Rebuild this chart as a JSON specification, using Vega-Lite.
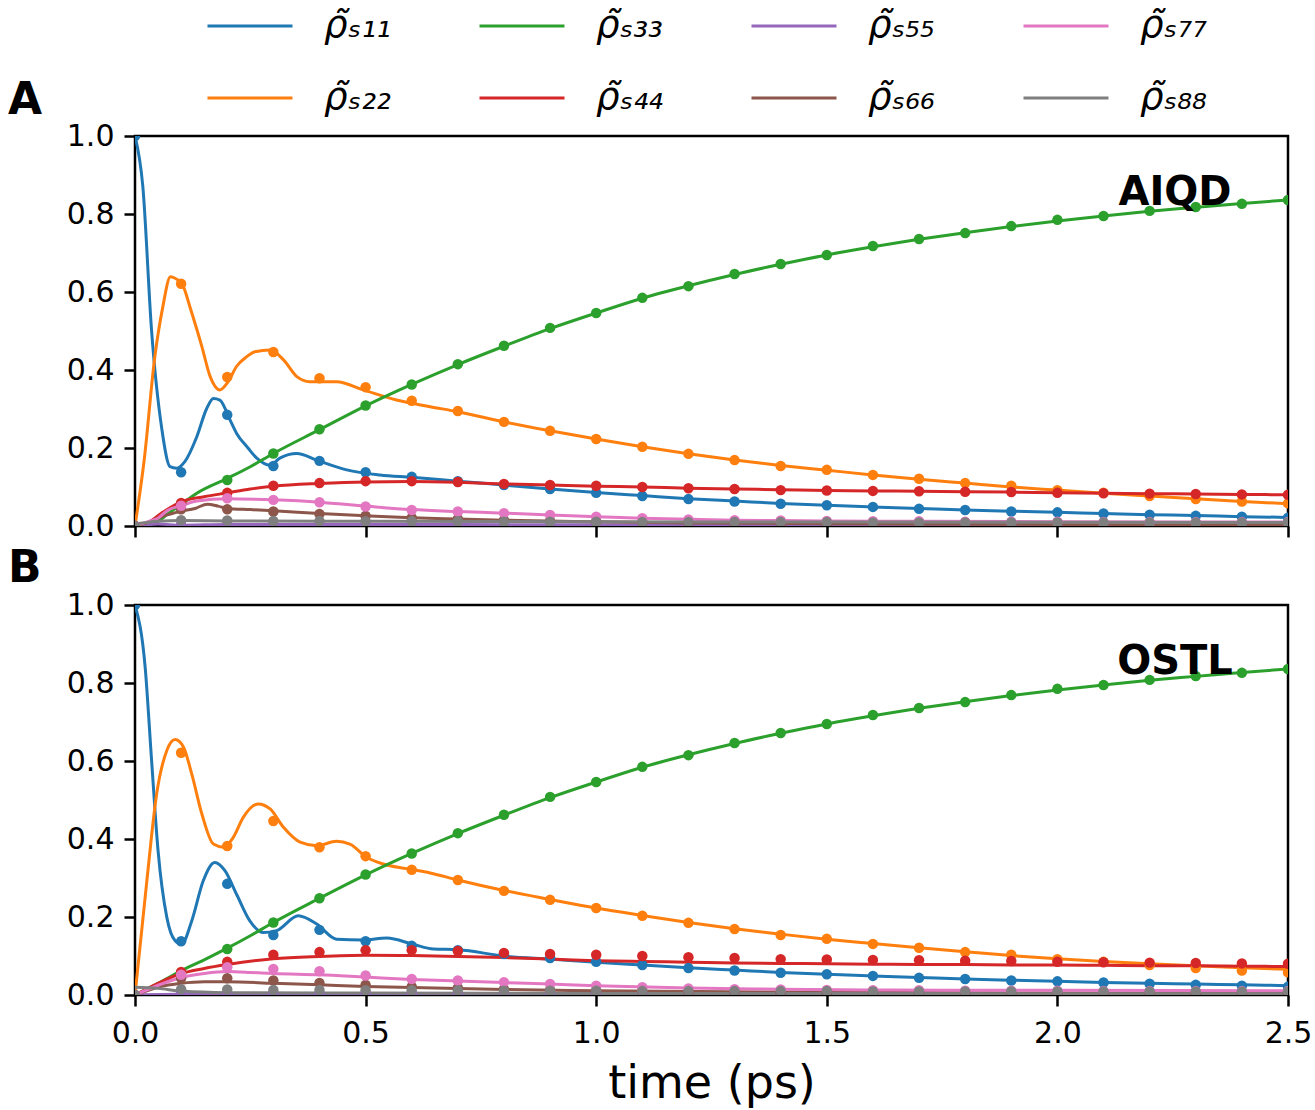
{
  "$schema": "https://vega.github.io/schema/vega-lite/v6.json",
  "background": "white",
  "padding": {"left": 6, "top": 3, "right": 5, "bottom": 2},
  "spacing": 2,
  "config": {
    "font": "DejaVu Sans",
    "view": {"stroke": "black", "strokeWidth": 2.5},
    "axis": {"domain": false, "grid": false, "tickColor": "black", "tickSize": 11, "tickWidth": 2.5, "labelColor": "black", "labelFontSize": 30, "labelFlush": false, "labelOverlap": false, "titleColor": "black"},
    "title": {"fontSize": 44, "fontWeight": "bold", "anchor": "start", "frame": "group", "color": "black", "baseline": "alphabetic"}
  },
  "datasets": {
    "pts": [
      {"t":0,"s":"s11","v":1.0},{"t":0.1,"s":"s11","v":0.138},{"t":0.2,"s":"s11","v":0.285},{"t":0.3,"s":"s11","v":0.154},{"t":0.4,"s":"s11","v":0.167},{"t":0.5,"s":"s11","v":0.138},{"t":0.6,"s":"s11","v":0.126},{"t":0.7,"s":"s11","v":0.115},{"t":0.8,"s":"s11","v":0.105},{"t":0.9,"s":"s11","v":0.095},{"t":1.0,"s":"s11","v":0.085},{"t":1.1,"s":"s11","v":0.077},{"t":1.2,"s":"s11","v":0.069},{"t":1.3,"s":"s11","v":0.063},{"t":1.4,"s":"s11","v":0.057},{"t":1.5,"s":"s11","v":0.053},{"t":1.6,"s":"s11","v":0.049},{"t":1.7,"s":"s11","v":0.044},{"t":1.8,"s":"s11","v":0.041},{"t":1.9,"s":"s11","v":0.037},{"t":2.0,"s":"s11","v":0.035},{"t":2.1,"s":"s11","v":0.032},{"t":2.2,"s":"s11","v":0.029},{"t":2.3,"s":"s11","v":0.026},{"t":2.4,"s":"s11","v":0.024},{"t":2.5,"s":"s11","v":0.021},
      {"t":0,"s":"s22","v":0},{"t":0.1,"s":"s22","v":0.621},{"t":0.2,"s":"s22","v":0.382},{"t":0.3,"s":"s22","v":0.446},{"t":0.4,"s":"s22","v":0.379},{"t":0.5,"s":"s22","v":0.356},{"t":0.6,"s":"s22","v":0.321},{"t":0.7,"s":"s22","v":0.295},{"t":0.8,"s":"s22","v":0.267},{"t":0.9,"s":"s22","v":0.244},{"t":1.0,"s":"s22","v":0.223},{"t":1.1,"s":"s22","v":0.203},{"t":1.2,"s":"s22","v":0.185},{"t":1.3,"s":"s22","v":0.169},{"t":1.4,"s":"s22","v":0.154},{"t":1.5,"s":"s22","v":0.144},{"t":1.6,"s":"s22","v":0.131},{"t":1.7,"s":"s22","v":0.121},{"t":1.8,"s":"s22","v":0.110},{"t":1.9,"s":"s22","v":0.103},{"t":2.0,"s":"s22","v":0.092},{"t":2.1,"s":"s22","v":0.085},{"t":2.2,"s":"s22","v":0.077},{"t":2.3,"s":"s22","v":0.069},{"t":2.4,"s":"s22","v":0.063},{"t":2.5,"s":"s22","v":0.058},
      {"t":0,"s":"s33","v":0},{"t":0.1,"s":"s33","v":0.057},{"t":0.2,"s":"s33","v":0.118},{"t":0.3,"s":"s33","v":0.186},{"t":0.4,"s":"s33","v":0.248},{"t":0.5,"s":"s33","v":0.309},{"t":0.6,"s":"s33","v":0.363},{"t":0.7,"s":"s33","v":0.415},{"t":0.8,"s":"s33","v":0.462},{"t":0.9,"s":"s33","v":0.508},{"t":1.0,"s":"s33","v":0.546},{"t":1.1,"s":"s33","v":0.585},{"t":1.2,"s":"s33","v":0.615},{"t":1.3,"s":"s33","v":0.646},{"t":1.4,"s":"s33","v":0.672},{"t":1.5,"s":"s33","v":0.695},{"t":1.6,"s":"s33","v":0.718},{"t":1.7,"s":"s33","v":0.736},{"t":1.8,"s":"s33","v":0.751},{"t":1.9,"s":"s33","v":0.769},{"t":2.0,"s":"s33","v":0.785},{"t":2.1,"s":"s33","v":0.795},{"t":2.2,"s":"s33","v":0.808},{"t":2.3,"s":"s33","v":0.818},{"t":2.4,"s":"s33","v":0.826},{"t":2.5,"s":"s33","v":0.836},
      {"t":0,"s":"s44","v":0},{"t":0.1,"s":"s44","v":0.059},{"t":0.2,"s":"s44","v":0.085},{"t":0.3,"s":"s44","v":0.103},{"t":0.4,"s":"s44","v":0.110},{"t":0.5,"s":"s44","v":0.115},{"t":0.6,"s":"s44","v":0.115},{"t":0.7,"s":"s44","v":0.113},{"t":0.8,"s":"s44","v":0.108},{"t":0.9,"s":"s44","v":0.105},{"t":1.0,"s":"s44","v":0.103},{"t":1.1,"s":"s44","v":0.100},{"t":1.2,"s":"s44","v":0.097},{"t":1.3,"s":"s44","v":0.095},{"t":1.4,"s":"s44","v":0.092},{"t":1.5,"s":"s44","v":0.091},{"t":1.6,"s":"s44","v":0.090},{"t":1.7,"s":"s44","v":0.089},{"t":1.8,"s":"s44","v":0.088},{"t":1.9,"s":"s44","v":0.087},{"t":2.0,"s":"s44","v":0.085},{"t":2.1,"s":"s44","v":0.084},{"t":2.2,"s":"s44","v":0.083},{"t":2.3,"s":"s44","v":0.082},{"t":2.4,"s":"s44","v":0.081},{"t":2.5,"s":"s44","v":0.080},
      {"t":0,"s":"s55","v":0},{"t":0.1,"s":"s55","v":0.003},{"t":0.2,"s":"s55","v":0.004},{"t":0.3,"s":"s55","v":0.004},{"t":0.4,"s":"s55","v":0.004},{"t":0.5,"s":"s55","v":0.004},{"t":0.6,"s":"s55","v":0.003},{"t":0.7,"s":"s55","v":0.003},{"t":0.8,"s":"s55","v":0.003},{"t":0.9,"s":"s55","v":0.003},{"t":1.0,"s":"s55","v":0.003},{"t":1.1,"s":"s55","v":0.003},{"t":1.2,"s":"s55","v":0.002},{"t":1.3,"s":"s55","v":0.002},{"t":1.4,"s":"s55","v":0.002},{"t":1.5,"s":"s55","v":0.002},{"t":1.6,"s":"s55","v":0.002},{"t":1.7,"s":"s55","v":0.002},{"t":1.8,"s":"s55","v":0.002},{"t":1.9,"s":"s55","v":0.002},{"t":2.0,"s":"s55","v":0.002},{"t":2.1,"s":"s55","v":0.002},{"t":2.2,"s":"s55","v":0.002},{"t":2.3,"s":"s55","v":0.002},{"t":2.4,"s":"s55","v":0.002},{"t":2.5,"s":"s55","v":0.002},
      {"t":0,"s":"s66","v":0},{"t":0.1,"s":"s66","v":0.043},{"t":0.2,"s":"s66","v":0.043},{"t":0.3,"s":"s66","v":0.037},{"t":0.4,"s":"s66","v":0.031},{"t":0.5,"s":"s66","v":0.026},{"t":0.6,"s":"s66","v":0.021},{"t":0.7,"s":"s66","v":0.018},{"t":0.8,"s":"s66","v":0.015},{"t":0.9,"s":"s66","v":0.013},{"t":1.0,"s":"s66","v":0.011},{"t":1.1,"s":"s66","v":0.009},{"t":1.2,"s":"s66","v":0.008},{"t":1.3,"s":"s66","v":0.007},{"t":1.4,"s":"s66","v":0.006},{"t":1.5,"s":"s66","v":0.005},{"t":1.6,"s":"s66","v":0.005},{"t":1.7,"s":"s66","v":0.004},{"t":1.8,"s":"s66","v":0.004},{"t":1.9,"s":"s66","v":0.004},{"t":2.0,"s":"s66","v":0.003},{"t":2.1,"s":"s66","v":0.003},{"t":2.2,"s":"s66","v":0.003},{"t":2.3,"s":"s66","v":0.003},{"t":2.4,"s":"s66","v":0.003},{"t":2.5,"s":"s66","v":0.003},
      {"t":0,"s":"s77","v":0},{"t":0.1,"s":"s77","v":0.052},{"t":0.2,"s":"s77","v":0.071},{"t":0.3,"s":"s77","v":0.067},{"t":0.4,"s":"s77","v":0.061},{"t":0.5,"s":"s77","v":0.050},{"t":0.6,"s":"s77","v":0.041},{"t":0.7,"s":"s77","v":0.037},{"t":0.8,"s":"s77","v":0.033},{"t":0.9,"s":"s77","v":0.028},{"t":1.0,"s":"s77","v":0.024},{"t":1.1,"s":"s77","v":0.020},{"t":1.2,"s":"s77","v":0.017},{"t":1.3,"s":"s77","v":0.015},{"t":1.4,"s":"s77","v":0.014},{"t":1.5,"s":"s77","v":0.013},{"t":1.6,"s":"s77","v":0.012},{"t":1.7,"s":"s77","v":0.012},{"t":1.8,"s":"s77","v":0.011},{"t":1.9,"s":"s77","v":0.011},{"t":2.0,"s":"s77","v":0.011},{"t":2.1,"s":"s77","v":0.010},{"t":2.2,"s":"s77","v":0.010},{"t":2.3,"s":"s77","v":0.010},{"t":2.4,"s":"s77","v":0.010},{"t":2.5,"s":"s77","v":0.010},
      {"t":0,"s":"s88","v":0},{"t":0.1,"s":"s88","v":0.015},{"t":0.2,"s":"s88","v":0.014},{"t":0.3,"s":"s88","v":0.013},{"t":0.4,"s":"s88","v":0.013},{"t":0.5,"s":"s88","v":0.012},{"t":0.6,"s":"s88","v":0.012},{"t":0.7,"s":"s88","v":0.012},{"t":0.8,"s":"s88","v":0.011},{"t":0.9,"s":"s88","v":0.011},{"t":1.0,"s":"s88","v":0.011},{"t":1.1,"s":"s88","v":0.010},{"t":1.2,"s":"s88","v":0.010},{"t":1.3,"s":"s88","v":0.010},{"t":1.4,"s":"s88","v":0.010},{"t":1.5,"s":"s88","v":0.010},{"t":1.6,"s":"s88","v":0.009},{"t":1.7,"s":"s88","v":0.009},{"t":1.8,"s":"s88","v":0.009},{"t":1.9,"s":"s88","v":0.009},{"t":2.0,"s":"s88","v":0.009},{"t":2.1,"s":"s88","v":0.009},{"t":2.2,"s":"s88","v":0.009},{"t":2.3,"s":"s88","v":0.009},{"t":2.4,"s":"s88","v":0.009},{"t":2.5,"s":"s88","v":0.009}
    ],
    "lineA": [
      {"t":0,"s":"s11","v":1.0},{"t":0.017,"s":"s11","v":0.87},{"t":0.036,"s":"s11","v":0.50},{"t":0.058,"s":"s11","v":0.25},{"t":0.076,"s":"s11","v":0.152},{"t":0.09,"s":"s11","v":0.148},{"t":0.108,"s":"s11","v":0.165},{"t":0.134,"s":"s11","v":0.229},{"t":0.155,"s":"s11","v":0.30},{"t":0.17,"s":"s11","v":0.327},{"t":0.184,"s":"s11","v":0.323},{"t":0.206,"s":"s11","v":0.272},{"t":0.22,"s":"s11","v":0.238},{"t":0.245,"s":"s11","v":0.2},{"t":0.264,"s":"s11","v":0.174},{"t":0.293,"s":"s11","v":0.156},{"t":0.314,"s":"s11","v":0.174},{"t":0.351,"s":"s11","v":0.186},{"t":0.394,"s":"s11","v":0.169},{"t":0.459,"s":"s11","v":0.144},{"t":0.531,"s":"s11","v":0.131},{"t":0.6,"s":"s11","v":0.125},{"t":0.7,"s":"s11","v":0.115},{"t":0.8,"s":"s11","v":0.105},{"t":0.9,"s":"s11","v":0.095},{"t":1.0,"s":"s11","v":0.086},{"t":1.1,"s":"s11","v":0.078},{"t":1.2,"s":"s11","v":0.07},{"t":1.3,"s":"s11","v":0.064},{"t":1.4,"s":"s11","v":0.058},{"t":1.5,"s":"s11","v":0.053},{"t":1.6,"s":"s11","v":0.049},{"t":1.7,"s":"s11","v":0.045},{"t":1.8,"s":"s11","v":0.041},{"t":1.9,"s":"s11","v":0.038},{"t":2.0,"s":"s11","v":0.035},{"t":2.1,"s":"s11","v":0.032},{"t":2.2,"s":"s11","v":0.029},{"t":2.3,"s":"s11","v":0.027},{"t":2.4,"s":"s11","v":0.024},{"t":2.5,"s":"s11","v":0.022},
      {"t":0,"s":"s22","v":0},{"t":0.02,"s":"s22","v":0.17},{"t":0.043,"s":"s22","v":0.434},{"t":0.06,"s":"s22","v":0.56},{"t":0.077,"s":"s22","v":0.639},{"t":0.09,"s":"s22","v":0.633},{"t":0.105,"s":"s22","v":0.614},{"t":0.119,"s":"s22","v":0.562},{"t":0.145,"s":"s22","v":0.46},{"t":0.163,"s":"s22","v":0.383},{"t":0.184,"s":"s22","v":0.349},{"t":0.202,"s":"s22","v":0.37},{"t":0.22,"s":"s22","v":0.409},{"t":0.24,"s":"s22","v":0.432},{"t":0.26,"s":"s22","v":0.447},{"t":0.293,"s":"s22","v":0.451},{"t":0.322,"s":"s22","v":0.426},{"t":0.351,"s":"s22","v":0.383},{"t":0.379,"s":"s22","v":0.37},{"t":0.437,"s":"s22","v":0.37},{"t":0.495,"s":"s22","v":0.349},{"t":0.567,"s":"s22","v":0.323},{"t":0.64,"s":"s22","v":0.306},{"t":0.7,"s":"s22","v":0.293},{"t":0.8,"s":"s22","v":0.267},{"t":0.9,"s":"s22","v":0.244},{"t":1.0,"s":"s22","v":0.223},{"t":1.1,"s":"s22","v":0.203},{"t":1.2,"s":"s22","v":0.185},{"t":1.3,"s":"s22","v":0.169},{"t":1.4,"s":"s22","v":0.155},{"t":1.5,"s":"s22","v":0.143},{"t":1.6,"s":"s22","v":0.131},{"t":1.7,"s":"s22","v":0.12},{"t":1.8,"s":"s22","v":0.11},{"t":1.9,"s":"s22","v":0.1},{"t":2.0,"s":"s22","v":0.092},{"t":2.1,"s":"s22","v":0.084},{"t":2.2,"s":"s22","v":0.077},{"t":2.3,"s":"s22","v":0.07},{"t":2.4,"s":"s22","v":0.063},{"t":2.5,"s":"s22","v":0.057},
      {"t":0,"s":"s33","v":0},{"t":0.03,"s":"s33","v":0.004},{"t":0.05,"s":"s33","v":0.012},{"t":0.07,"s":"s33","v":0.03},{"t":0.1,"s":"s33","v":0.055},{"t":0.134,"s":"s33","v":0.084},{"t":0.2,"s":"s33","v":0.122},{"t":0.25,"s":"s33","v":0.152},{"t":0.3,"s":"s33","v":0.186},{"t":0.4,"s":"s33","v":0.247},{"t":0.5,"s":"s33","v":0.308},{"t":0.6,"s":"s33","v":0.363},{"t":0.7,"s":"s33","v":0.414},{"t":0.8,"s":"s33","v":0.461},{"t":0.9,"s":"s33","v":0.506},{"t":1.0,"s":"s33","v":0.546},{"t":1.1,"s":"s33","v":0.584},{"t":1.2,"s":"s33","v":0.616},{"t":1.3,"s":"s33","v":0.645},{"t":1.4,"s":"s33","v":0.671},{"t":1.5,"s":"s33","v":0.695},{"t":1.6,"s":"s33","v":0.716},{"t":1.7,"s":"s33","v":0.735},{"t":1.8,"s":"s33","v":0.752},{"t":1.9,"s":"s33","v":0.768},{"t":2.0,"s":"s33","v":0.782},{"t":2.1,"s":"s33","v":0.795},{"t":2.2,"s":"s33","v":0.807},{"t":2.3,"s":"s33","v":0.817},{"t":2.4,"s":"s33","v":0.827},{"t":2.5,"s":"s33","v":0.836},
      {"t":0,"s":"s44","v":0},{"t":0.03,"s":"s44","v":0.01},{"t":0.06,"s":"s44","v":0.035},{"t":0.1,"s":"s44","v":0.062},{"t":0.15,"s":"s44","v":0.075},{"t":0.2,"s":"s44","v":0.085},{"t":0.25,"s":"s44","v":0.095},{"t":0.3,"s":"s44","v":0.102},{"t":0.4,"s":"s44","v":0.109},{"t":0.5,"s":"s44","v":0.113},{"t":0.6,"s":"s44","v":0.114},{"t":0.7,"s":"s44","v":0.112},{"t":0.8,"s":"s44","v":0.108},{"t":0.9,"s":"s44","v":0.105},{"t":1.0,"s":"s44","v":0.102},{"t":1.1,"s":"s44","v":0.1},{"t":1.2,"s":"s44","v":0.097},{"t":1.3,"s":"s44","v":0.095},{"t":1.4,"s":"s44","v":0.093},{"t":1.5,"s":"s44","v":0.091},{"t":1.6,"s":"s44","v":0.09},{"t":1.7,"s":"s44","v":0.089},{"t":1.8,"s":"s44","v":0.088},{"t":1.9,"s":"s44","v":0.087},{"t":2.0,"s":"s44","v":0.085},{"t":2.1,"s":"s44","v":0.084},{"t":2.2,"s":"s44","v":0.083},{"t":2.3,"s":"s44","v":0.082},{"t":2.4,"s":"s44","v":0.081},{"t":2.5,"s":"s44","v":0.08},
      {"t":0,"s":"s55","v":0},{"t":0.05,"s":"s55","v":0.005},{"t":0.1,"s":"s55","v":0.002},{"t":0.2,"s":"s55","v":0.004},{"t":0.5,"s":"s55","v":0.004},{"t":1.0,"s":"s55","v":0.003},{"t":1.5,"s":"s55","v":0.002},{"t":2.5,"s":"s55","v":0.002},
      {"t":0,"s":"s66","v":0},{"t":0.03,"s":"s66","v":0.01},{"t":0.06,"s":"s66","v":0.025},{"t":0.1,"s":"s66","v":0.038},{"t":0.13,"s":"s66","v":0.045},{"t":0.157,"s":"s66","v":0.056},{"t":0.18,"s":"s66","v":0.051},{"t":0.2,"s":"s66","v":0.045},{"t":0.25,"s":"s66","v":0.042},{"t":0.3,"s":"s66","v":0.039},{"t":0.4,"s":"s66","v":0.032},{"t":0.5,"s":"s66","v":0.026},{"t":0.6,"s":"s66","v":0.021},{"t":0.7,"s":"s66","v":0.018},{"t":0.8,"s":"s66","v":0.015},{"t":1.0,"s":"s66","v":0.011},{"t":1.2,"s":"s66","v":0.008},{"t":1.5,"s":"s66","v":0.006},{"t":2.0,"s":"s66","v":0.004},{"t":2.5,"s":"s66","v":0.003},
      {"t":0,"s":"s77","v":0},{"t":0.03,"s":"s77","v":0.012},{"t":0.05,"s":"s77","v":0.02},{"t":0.07,"s":"s77","v":0.04},{"t":0.1,"s":"s77","v":0.052},{"t":0.134,"s":"s77","v":0.064},{"t":0.2,"s":"s77","v":0.07},{"t":0.3,"s":"s77","v":0.067},{"t":0.4,"s":"s77","v":0.061},{"t":0.5,"s":"s77","v":0.051},{"t":0.6,"s":"s77","v":0.042},{"t":0.7,"s":"s77","v":0.037},{"t":0.8,"s":"s77","v":0.033},{"t":0.9,"s":"s77","v":0.028},{"t":1.0,"s":"s77","v":0.024},{"t":1.1,"s":"s77","v":0.02},{"t":1.2,"s":"s77","v":0.017},{"t":1.3,"s":"s77","v":0.015},{"t":1.4,"s":"s77","v":0.014},{"t":1.5,"s":"s77","v":0.013},{"t":1.7,"s":"s77","v":0.012},{"t":2.0,"s":"s77","v":0.011},{"t":2.5,"s":"s77","v":0.01},
      {"t":0,"s":"s88","v":0.005},{"t":0.05,"s":"s88","v":0.012},{"t":0.1,"s":"s88","v":0.014},{"t":0.2,"s":"s88","v":0.013},{"t":0.5,"s":"s88","v":0.012},{"t":1.0,"s":"s88","v":0.011},{"t":1.5,"s":"s88","v":0.01},{"t":2.5,"s":"s88","v":0.009}
    ],
    "lineB": [
      {"t":0,"s":"s11","v":1.0},{"t":0.022,"s":"s11","v":0.841},{"t":0.036,"s":"s11","v":0.601},{"t":0.05,"s":"s11","v":0.37},{"t":0.069,"s":"s11","v":0.199},{"t":0.087,"s":"s11","v":0.139},{"t":0.101,"s":"s11","v":0.13},{"t":0.123,"s":"s11","v":0.19},{"t":0.148,"s":"s11","v":0.293},{"t":0.173,"s":"s11","v":0.34},{"t":0.195,"s":"s11","v":0.319},{"t":0.22,"s":"s11","v":0.259},{"t":0.249,"s":"s11","v":0.19},{"t":0.278,"s":"s11","v":0.16},{"t":0.307,"s":"s11","v":0.165},{"t":0.354,"s":"s11","v":0.203},{"t":0.394,"s":"s11","v":0.182},{"t":0.437,"s":"s11","v":0.143},{"t":0.495,"s":"s11","v":0.141},{"t":0.546,"s":"s11","v":0.146},{"t":0.603,"s":"s11","v":0.13},{"t":0.647,"s":"s11","v":0.118},{"t":0.701,"s":"s11","v":0.116},{"t":0.8,"s":"s11","v":0.1},{"t":0.9,"s":"s11","v":0.092},{"t":1.0,"s":"s11","v":0.084},{"t":1.1,"s":"s11","v":0.077},{"t":1.2,"s":"s11","v":0.07},{"t":1.3,"s":"s11","v":0.064},{"t":1.4,"s":"s11","v":0.058},{"t":1.5,"s":"s11","v":0.053},{"t":1.6,"s":"s11","v":0.049},{"t":1.7,"s":"s11","v":0.045},{"t":1.8,"s":"s11","v":0.041},{"t":1.9,"s":"s11","v":0.038},{"t":2.0,"s":"s11","v":0.035},{"t":2.1,"s":"s11","v":0.032},{"t":2.2,"s":"s11","v":0.03},{"t":2.3,"s":"s11","v":0.028},{"t":2.4,"s":"s11","v":0.026},{"t":2.5,"s":"s11","v":0.024},
      {"t":0,"s":"s22","v":0},{"t":0.025,"s":"s22","v":0.285},{"t":0.047,"s":"s22","v":0.516},{"t":0.069,"s":"s22","v":0.627},{"t":0.087,"s":"s22","v":0.655},{"t":0.105,"s":"s22","v":0.636},{"t":0.123,"s":"s22","v":0.567},{"t":0.145,"s":"s22","v":0.464},{"t":0.17,"s":"s22","v":0.387},{"t":0.192,"s":"s22","v":0.379},{"t":0.213,"s":"s22","v":0.404},{"t":0.235,"s":"s22","v":0.456},{"t":0.267,"s":"s22","v":0.49},{"t":0.293,"s":"s22","v":0.477},{"t":0.322,"s":"s22","v":0.43},{"t":0.358,"s":"s22","v":0.392},{"t":0.394,"s":"s22","v":0.383},{"t":0.437,"s":"s22","v":0.394},{"t":0.466,"s":"s22","v":0.387},{"t":0.502,"s":"s22","v":0.353},{"t":0.538,"s":"s22","v":0.336},{"t":0.589,"s":"s22","v":0.324},{"t":0.64,"s":"s22","v":0.313},{"t":0.7,"s":"s22","v":0.295},{"t":0.8,"s":"s22","v":0.268},{"t":0.9,"s":"s22","v":0.245},{"t":1.0,"s":"s22","v":0.223},{"t":1.1,"s":"s22","v":0.204},{"t":1.2,"s":"s22","v":0.186},{"t":1.3,"s":"s22","v":0.17},{"t":1.4,"s":"s22","v":0.156},{"t":1.5,"s":"s22","v":0.143},{"t":1.6,"s":"s22","v":0.132},{"t":1.7,"s":"s22","v":0.121},{"t":1.8,"s":"s22","v":0.111},{"t":1.9,"s":"s22","v":0.101},{"t":2.0,"s":"s22","v":0.093},{"t":2.1,"s":"s22","v":0.086},{"t":2.2,"s":"s22","v":0.08},{"t":2.3,"s":"s22","v":0.075},{"t":2.4,"s":"s22","v":0.07},{"t":2.5,"s":"s22","v":0.066},
      {"t":0,"s":"s33","v":0},{"t":0.05,"s":"s33","v":0.03},{"t":0.1,"s":"s33","v":0.062},{"t":0.15,"s":"s33","v":0.09},{"t":0.2,"s":"s33","v":0.12},{"t":0.25,"s":"s33","v":0.152},{"t":0.3,"s":"s33","v":0.186},{"t":0.4,"s":"s33","v":0.248},{"t":0.5,"s":"s33","v":0.308},{"t":0.6,"s":"s33","v":0.363},{"t":0.7,"s":"s33","v":0.414},{"t":0.8,"s":"s33","v":0.461},{"t":0.9,"s":"s33","v":0.506},{"t":1.0,"s":"s33","v":0.546},{"t":1.1,"s":"s33","v":0.584},{"t":1.2,"s":"s33","v":0.616},{"t":1.3,"s":"s33","v":0.645},{"t":1.4,"s":"s33","v":0.671},{"t":1.5,"s":"s33","v":0.695},{"t":1.6,"s":"s33","v":0.716},{"t":1.7,"s":"s33","v":0.735},{"t":1.8,"s":"s33","v":0.752},{"t":1.9,"s":"s33","v":0.768},{"t":2.0,"s":"s33","v":0.782},{"t":2.1,"s":"s33","v":0.795},{"t":2.2,"s":"s33","v":0.807},{"t":2.3,"s":"s33","v":0.817},{"t":2.4,"s":"s33","v":0.827},{"t":2.5,"s":"s33","v":0.836},
      {"t":0,"s":"s44","v":0},{"t":0.05,"s":"s44","v":0.03},{"t":0.1,"s":"s44","v":0.055},{"t":0.15,"s":"s44","v":0.068},{"t":0.2,"s":"s44","v":0.078},{"t":0.3,"s":"s44","v":0.093},{"t":0.4,"s":"s44","v":0.099},{"t":0.5,"s":"s44","v":0.102},{"t":0.6,"s":"s44","v":0.101},{"t":0.7,"s":"s44","v":0.099},{"t":0.8,"s":"s44","v":0.096},{"t":0.9,"s":"s44","v":0.092},{"t":1.0,"s":"s44","v":0.088},{"t":1.1,"s":"s44","v":0.086},{"t":1.2,"s":"s44","v":0.084},{"t":1.3,"s":"s44","v":0.082},{"t":1.4,"s":"s44","v":0.081},{"t":1.5,"s":"s44","v":0.08},{"t":1.6,"s":"s44","v":0.079},{"t":1.7,"s":"s44","v":0.078},{"t":1.8,"s":"s44","v":0.078},{"t":1.9,"s":"s44","v":0.077},{"t":2.0,"s":"s44","v":0.077},{"t":2.1,"s":"s44","v":0.076},{"t":2.2,"s":"s44","v":0.075},{"t":2.3,"s":"s44","v":0.075},{"t":2.4,"s":"s44","v":0.074},{"t":2.5,"s":"s44","v":0.073},
      {"t":0,"s":"s55","v":0},{"t":0.1,"s":"s55","v":0.002},{"t":1.0,"s":"s55","v":0.002},{"t":2.5,"s":"s55","v":0.002},
      {"t":0,"s":"s66","v":0},{"t":0.05,"s":"s66","v":0.02},{"t":0.1,"s":"s66","v":0.03},{"t":0.15,"s":"s66","v":0.034},{"t":0.2,"s":"s66","v":0.034},{"t":0.3,"s":"s66","v":0.03},{"t":0.4,"s":"s66","v":0.026},{"t":0.5,"s":"s66","v":0.022},{"t":0.6,"s":"s66","v":0.019},{"t":0.8,"s":"s66","v":0.014},{"t":1.0,"s":"s66","v":0.011},{"t":1.5,"s":"s66","v":0.007},{"t":2.0,"s":"s66","v":0.005},{"t":2.5,"s":"s66","v":0.004},
      {"t":0,"s":"s77","v":0},{"t":0.05,"s":"s77","v":0.025},{"t":0.1,"s":"s77","v":0.045},{"t":0.15,"s":"s77","v":0.055},{"t":0.2,"s":"s77","v":0.06},{"t":0.25,"s":"s77","v":0.058},{"t":0.3,"s":"s77","v":0.055},{"t":0.4,"s":"s77","v":0.052},{"t":0.5,"s":"s77","v":0.046},{"t":0.6,"s":"s77","v":0.04},{"t":0.7,"s":"s77","v":0.036},{"t":0.8,"s":"s77","v":0.032},{"t":0.9,"s":"s77","v":0.028},{"t":1.0,"s":"s77","v":0.024},{"t":1.2,"s":"s77","v":0.018},{"t":1.4,"s":"s77","v":0.015},{"t":1.6,"s":"s77","v":0.013},{"t":2.0,"s":"s77","v":0.012},{"t":2.5,"s":"s77","v":0.011},
      {"t":0,"s":"s88","v":0.02},{"t":0.05,"s":"s88","v":0.017},{"t":0.1,"s":"s88","v":0.01},{"t":0.2,"s":"s88","v":0.006},{"t":0.5,"s":"s88","v":0.005},{"t":1.0,"s":"s88","v":0.004},{"t":2.5,"s":"s88","v":0.003}
    ]
  },
  "vconcat": [
    {
      "width": 1153,
      "height": 390,
      "title": {"text": "A", "dx": -127, "offset": -2},
      "layer": [
        {
          "data": {"name": "lineA"},
          "mark": {"type": "line", "strokeWidth": 3, "clip": true, "interpolate": "monotone"},
          "encoding": {
            "x": {"field": "t", "type": "quantitative", "scale": {"domain": [0, 2.5], "nice": false}, "axis": {"values": [0, 0.5, 1.0, 1.5, 2.0, 2.5], "labels": false, "title": null}},
            "y": {"field": "v", "type": "quantitative", "scale": {"domain": [0, 1], "nice": false}, "axis": {"values": [0, 0.2, 0.4, 0.6, 0.8, 1.0], "format": ".1f", "title": null, "labelPadding": 10}},
            "color": {
              "field": "s", "type": "nominal",
              "scale": {"domain": ["s11", "s33", "s55", "s77", "s22", "s44", "s66", "s88"], "range": ["#1f77b4", "#2ca02c", "#9467bd", "#e377c2", "#ff7f0e", "#d62728", "#8c564b", "#7f7f7f"]},
              "legend": {
                "orient": "none", "legendX": 92, "legendY": -133, "direction": "horizontal", "columns": 4, "title": null, "padding": 0,
                "symbolType": "M-2,0H2", "symbolSize": 1806, "symbolStrokeWidth": 3,
                "labelFontSize": 37, "labelFontStyle": "italic", "labelColor": "black", "labelOffset": 51, "columnPadding": 82, "rowPadding": 31,
                "labelExpr": "datum.label == 's11' ? 'ρ̃ₛ₁₁' : datum.label == 's22' ? 'ρ̃ₛ₂₂' : datum.label == 's33' ? 'ρ̃ₛ₃₃' : datum.label == 's44' ? 'ρ̃ₛ₄₄' : datum.label == 's55' ? 'ρ̃ₛ₅₅' : datum.label == 's66' ? 'ρ̃ₛ₆₆' : datum.label == 's77' ? 'ρ̃ₛ₇₇' : 'ρ̃ₛ₈₈'"
              }
            }
          }
        },
        {
          "data": {"name": "pts"},
          "mark": {"type": "circle", "size": 110, "opacity": 1, "clip": true},
          "encoding": {
            "x": {"field": "t", "type": "quantitative"},
            "y": {"field": "v", "type": "quantitative"},
            "color": {"field": "s", "type": "nominal"}
          }
        },
        {
          "data": {"values": [{"t": 2.255, "v": 0.853, "label": "AIQD"}]},
          "mark": {"type": "text", "fontSize": 40, "fontWeight": "bold", "color": "black", "align": "center", "baseline": "middle"},
          "encoding": {
            "x": {"field": "t", "type": "quantitative"},
            "y": {"field": "v", "type": "quantitative"},
            "text": {"field": "label"}
          }
        }
      ]
    },
    {
      "width": 1153,
      "height": 390,
      "title": {"text": "B", "dx": -127, "offset": -1},
      "layer": [
        {
          "data": {"name": "lineB"},
          "mark": {"type": "line", "strokeWidth": 3, "clip": true, "interpolate": "monotone"},
          "encoding": {
            "x": {"field": "t", "type": "quantitative", "scale": {"domain": [0, 2.5], "nice": false}, "axis": {"values": [0, 0.5, 1.0, 1.5, 2.0, 2.5], "format": ".1f", "title": "time (ps)", "titleFontSize": 46, "titleFontWeight": "normal", "labelPadding": 12, "titlePadding": 13}},
            "y": {"field": "v", "type": "quantitative", "scale": {"domain": [0, 1], "nice": false}, "axis": {"values": [0, 0.2, 0.4, 0.6, 0.8, 1.0], "format": ".1f", "title": null, "labelPadding": 10}},
            "color": {"field": "s", "type": "nominal"}
          }
        },
        {
          "data": {"name": "pts"},
          "mark": {"type": "circle", "size": 110, "opacity": 1, "clip": true},
          "encoding": {
            "x": {"field": "t", "type": "quantitative"},
            "y": {"field": "v", "type": "quantitative"},
            "color": {"field": "s", "type": "nominal"}
          }
        },
        {
          "data": {"values": [{"t": 2.255, "v": 0.853, "label": "OSTL"}]},
          "mark": {"type": "text", "fontSize": 40, "fontWeight": "bold", "color": "black", "align": "center", "baseline": "middle"},
          "encoding": {
            "x": {"field": "t", "type": "quantitative"},
            "y": {"field": "v", "type": "quantitative"},
            "text": {"field": "label"}
          }
        }
      ]
    }
  ]
}
